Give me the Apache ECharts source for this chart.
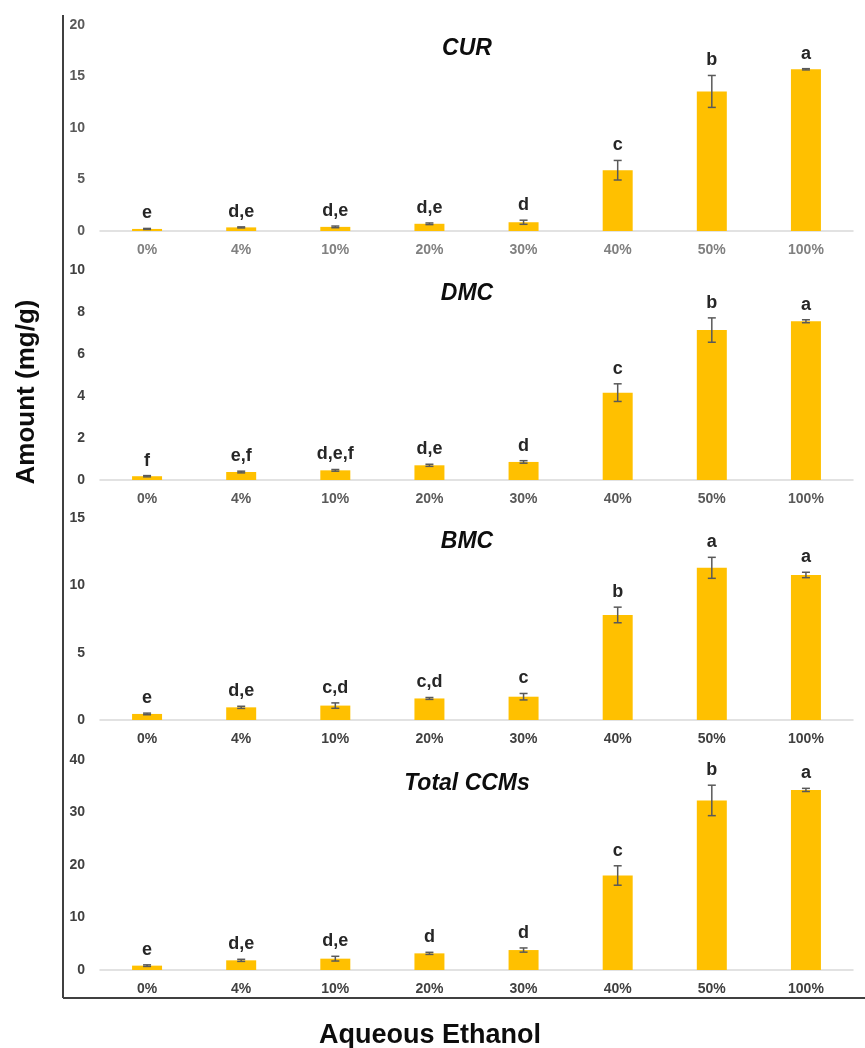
<!DOCTYPE html>
<html lang="en" style="height: 100%">
<head>
  <meta charset="utf-8">
</head>
<body style="height: 100%; margin: 0; background: #fff">
  <div id="container" style="width: 865px; height: 1048px"></div>

  <script type="text/javascript" src="https://cdn.jsdelivr.net/npm/echarts@6/dist/echarts.min.js"></script>

  <script type="text/javascript">
    var dom = document.getElementById('container');
    var myChart = echarts.init(dom, null, { renderer: 'canvas' });

const categories = ['0%', '4%', '10%', '20%', '30%', '40%', '50%', '100%'];

const curMean = [0.2, 0.35, 0.4, 0.7, 0.85, 5.9, 13.55, 15.7];
const curErr = [0.05, 0.05, 0.08, 0.08, 0.2, 0.95, 1.55, 0.06];
const curLetters = ['e', 'd,e', 'd,e', 'd,e', 'd', 'c', 'b', 'a'];

const dmcMean = [0.18, 0.38, 0.46, 0.7, 0.86, 4.16, 7.14, 7.56];
const dmcErr = [0.03, 0.04, 0.04, 0.05, 0.06, 0.42, 0.58, 0.07];
const dmcLetters = ['f', 'e,f', 'd,e,f', 'd,e', 'd', 'c', 'b', 'a'];

const bmcMean = [0.45, 0.94, 1.07, 1.6, 1.73, 7.8, 11.3, 10.77];
const bmcErr = [0.06, 0.08, 0.2, 0.07, 0.24, 0.58, 0.78, 0.2];
const bmcLetters = ['e', 'd,e', 'c,d', 'c,d', 'c', 'b', 'a', 'a'];

const totMean = [0.83, 1.84, 2.16, 3.17, 3.8, 18.0, 32.3, 34.3];
const totErr = [0.15, 0.2, 0.45, 0.2, 0.4, 1.85, 2.9, 0.3];
const totLetters = ['e', 'd,e', 'd,e', 'd', 'd', 'c', 'b', 'a'];

const panels = [
  { name: 'CUR', mean: curMean, err: curErr, letters: curLetters, max: 20, interval: 5, top: 25, height: 206, xc: '#808080', yc: '#595959' },
  { name: 'DMC', mean: dmcMean, err: dmcErr, letters: dmcLetters, max: 10, interval: 2, top: 270, height: 210, xc: '#595959', yc: '#404040' },
  { name: 'BMC', mean: bmcMean, err: bmcErr, letters: bmcLetters, max: 15, interval: 5, top: 518, height: 202, xc: '#404040', yc: '#404040' },
  { name: 'Total CCMs', mean: totMean, err: totErr, letters: totLetters, max: 40, interval: 10, top: 760, height: 210, xc: '#404040', yc: '#404040' }
];

const FONT = '"Liberation Sans", Arial, sans-serif';
const grids = [], xAxes = [], yAxes = [], series = [], titles = [];

panels.forEach(function (p, i) {
  grids.push({ left: 100, right: 12, top: p.top, height: p.height });
  xAxes.push({
    type: 'category',
    gridIndex: i,
    data: categories,
    axisLine: { lineStyle: { color: '#d9d9d9', width: 1.5 } },
    axisTick: { show: false },
    axisLabel: { color: p.xc, fontWeight: 'bold', fontSize: 14, fontFamily: FONT, margin: 12 }
  });
  yAxes.push({
    type: 'value',
    gridIndex: i,
    min: 0,
    max: p.max,
    interval: p.interval,
    axisLine: { show: false },
    axisTick: { show: false },
    splitLine: { show: false },
    axisLabel: { color: p.yc, fontWeight: 'bold', fontSize: 14, fontFamily: FONT, margin: 15 }
  });
  series.push({
    type: 'bar',
    xAxisIndex: i,
    yAxisIndex: i,
    barWidth: 30,
    itemStyle: { color: '#ffc000' },
    data: p.mean
  });
  series.push({
    type: 'custom',
    xAxisIndex: i,
    yAxisIndex: i,
    z: 10,
    data: p.mean.map(function (m, k) { return [k, m, p.err[k]]; }),
    renderItem: function (params, api) {
      var idx = api.value(0);
      var m = api.value(1);
      var e = api.value(2);
      var hi = api.coord([idx, m + e]);
      var lo = api.coord([idx, m - e]);
      var x = hi[0];
      var ls = { stroke: '#595959', lineWidth: 1.5 };
      return {
        type: 'group',
        children: [
          { type: 'line', shape: { x1: x, y1: hi[1], x2: x, y2: lo[1] }, style: ls },
          { type: 'line', shape: { x1: x - 4, y1: hi[1], x2: x + 4, y2: hi[1] }, style: ls },
          { type: 'line', shape: { x1: x - 4, y1: lo[1], x2: x + 4, y2: lo[1] }, style: ls },
          {
            type: 'text',
            style: {
              text: p.letters[params.dataIndex],
              x: x,
              y: hi[1] - 15,
              align: 'center',
              verticalAlign: 'middle',
              fill: '#262626',
              font: 'bold 18px ' + FONT
            }
          }
        ]
      };
    }
  });
  titles.push({
    text: p.name,
    left: 462,
    top: p.top + 7,
    textAlign: 'center',
    textStyle: { fontSize: 23, fontWeight: 'bold', fontStyle: 'italic', color: '#0d0d0d', fontFamily: FONT }
  });
});

var option = {
  backgroundColor: '#fff',
  animation: false,
  title: titles,
  grid: grids,
  xAxis: xAxes,
  yAxis: yAxes,
  series: series,
  graphic: [
    { type: 'line', shape: { x1: 63, y1: 15, x2: 63, y2: 998 }, style: { stroke: '#404040', lineWidth: 2 } },
    { type: 'line', shape: { x1: 63, y1: 998, x2: 865, y2: 998 }, style: { stroke: '#404040', lineWidth: 2 } },
    {
      type: 'text', x: 27, y: 392, rotation: Math.PI / 2,
      style: { text: 'Amount (mg/g)', align: 'center', verticalAlign: 'middle', fill: '#0d0d0d', font: 'bold 26px ' + FONT }
    },
    {
      type: 'text', x: 430, y: 1036,
      style: { text: 'Aqueous Ethanol', align: 'center', verticalAlign: 'middle', fill: '#0d0d0d', font: 'bold 27px ' + FONT }
    }
  ]
};

myChart.setOption(option);
window.addEventListener('resize', myChart.resize);
  </script>
</body>
</html>
